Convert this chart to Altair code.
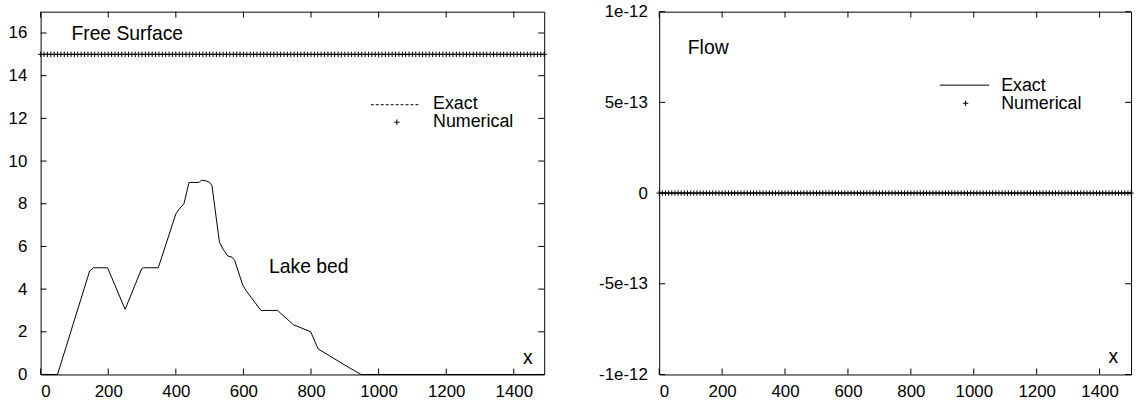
import altair as alt
import pandas as pd

# ---------------- data ----------------
# Left panel: lake bed profile
bed_x = [0, 50, 145, 157, 198, 250, 299, 304, 348, 400, 410, 424, 439, 469, 475, 490,
         500, 507, 529, 541, 554, 566, 574, 598, 610, 652, 701, 748, 799, 821, 904, 948, 1490]
bed_y = [0, 0, 4.85, 5.0, 5.0, 3.05, 4.96, 5.0, 5.0, 7.52, 7.75, 8.0, 9.0, 9.0, 9.1, 9.07,
         9.0, 8.84, 6.2, 5.84, 5.55, 5.5, 5.35, 4.19, 3.88, 3.0, 3.0, 2.33, 2.0, 1.2, 0.4, 0, 0]

# numerical grid (cell positions) and solutions
grid_left = list(range(0, 1491, 10))
grid_right = list(range(0, 1501, 10))
surface_level = 15.0
surface_exact_x = [0, 1490]
flow_exact_x = [0, 1500]
flow_level = 0.0

left_xticks = [0, 200, 400, 600, 800, 1000, 1200, 1400]
left_yticks = [0, 2, 4, 6, 8, 10, 12, 14, 16]
right_xticks = [0, 200, 400, 600, 800, 1000, 1200, 1400]
right_yticks = [-1e-12, -5e-13, 0.0, 5e-13, 1e-12]

# annotations (data coordinates)
left_labels = ["Free Surface", "Lake bed", "x"]
left_label_x = [91, 676, 1427]
left_label_y = [15.66, 4.77, 0.5]
right_labels = ["Flow", "x"]
right_label_x = [91, 1428]
right_label_y = [0.764e-12, -0.939e-12]

legend_names = ["Exact", "Numerical"]

# ---------------- styling ----------------
FONT = "Liberation Sans"
LW, LH = 508, 366
RW, RH = 476, 366
TICK = 6
PLUS = "M-1,0L1,0M0,-1L0,1"

bed_df = pd.DataFrame({"x": bed_x, "y": bed_y})
surf_num_df = pd.DataFrame({"x": grid_left, "y": [surface_level] * len(grid_left)})
surf_ex_df = pd.DataFrame({"x": surface_exact_x, "y": [surface_level] * len(surface_exact_x)})
flow_num_df = pd.DataFrame({"x": grid_right, "y": [flow_level] * len(grid_right)})
flow_ex_df = pd.DataFrame({"x": flow_exact_x, "y": [flow_level] * len(flow_exact_x)})


def panel(xdom, ydom, W, H, xticks, yticks, yaxis_kw, layers_data, labels, legend_pos):
    xs = alt.Scale(domain=xdom, nice=False, zero=False)
    ys = alt.Scale(domain=ydom, nice=False, zero=False)
    xaxis = alt.Axis(values=xticks, title=None, format="d", labelPadding=9, ticks=False,
                     domain=False, grid=False, labelFont=FONT, labelFontSize=17,
                     labelColor="black")
    yaxis = alt.Axis(values=yticks, title=None, ticks=False, domain=False, grid=False,
                     labelFont=FONT, labelFontSize=17, labelColor="black", **yaxis_kw)
    X = alt.X("x:Q", scale=xs, axis=xaxis)
    Y = alt.Y("y:Q", scale=ys, axis=yaxis)

    layers = []
    for df, mk in layers_data:
        layers.append(mk(alt.Chart(df)).encode(x=X, y=Y))

    # inward ticks on all four sides
    xt = pd.DataFrame({"x": xticks})
    yt = pd.DataFrame({"y": yticks})
    layers.append(alt.Chart(xt).mark_rule(color="black", strokeWidth=1).encode(
        x=X, y=alt.value(H), y2=alt.value(H - TICK)))
    layers.append(alt.Chart(xt).mark_rule(color="black", strokeWidth=1).encode(
        x=X, y=alt.value(0), y2=alt.value(TICK)))
    layers.append(alt.Chart(yt).mark_rule(color="black", strokeWidth=1).encode(
        y=Y, x=alt.value(0), x2=alt.value(TICK)))
    layers.append(alt.Chart(yt).mark_rule(color="black", strokeWidth=1).encode(
        y=Y, x=alt.value(W), x2=alt.value(W - TICK)))

    # text annotations
    lab_df = pd.DataFrame({"label": labels[0], "x": labels[1], "y": labels[2]})
    layers.append(alt.Chart(lab_df).mark_text(align="left", baseline="alphabetic", font=FONT,
                                              fontSize=19.5, color="black").encode(
        x=X, y=Y, text="label:N"))

    # legend
    (lx1, lx2, ly_line, tx, ty1, px, py, ty2, dash) = legend_pos
    leg_line = pd.DataFrame({"x": [lx1], "x2": [lx2], "y": [ly_line]})
    rule_kw = {"strokeDash": dash} if dash else {}
    layers.append(alt.Chart(leg_line).mark_rule(color="black", strokeWidth=1, **rule_kw).encode(
        x=X, x2="x2:Q", y=Y))
    leg_pt = pd.DataFrame({"x": [px], "y": [py]})
    layers.append(alt.Chart(leg_pt).mark_point(shape=PLUS, size=30, filled=False, color="black",
                                               strokeWidth=1, opacity=1).encode(x=X, y=Y))
    leg_txt = pd.DataFrame({"label": legend_names, "x": [tx, tx], "y": [ty1, ty2]})
    layers.append(alt.Chart(leg_txt).mark_text(align="left", baseline="alphabetic", font=FONT,
                                               fontSize=18, color="black").encode(
        x=X, y=Y, text="label:N"))

    return alt.layer(*layers).properties(width=W, height=H)


points = lambda c: c.mark_point(shape=PLUS, size=30, filled=False, color="black",
                                strokeWidth=1, opacity=1)
dashed = lambda c: c.mark_line(color="black", strokeWidth=1, strokeDash=[3, 2])
solid = lambda c: c.mark_line(color="black", strokeWidth=1)

left = panel(
    [0, 1490], [0, 17], LW, LH, left_xticks, left_yticks,
    {"format": "d", "labelPadding": 14, "minExtent": 35, "maxExtent": 35},
    [(bed_df, solid), (surf_ex_df, dashed), (surf_num_df, points)],
    (left_labels, left_label_x, left_label_y),
    (977, 1124, 12.64, 1161, 12.44, 1054, 11.82, 11.59, [3, 2]),
)

right = panel(
    [0, 1500], [-1e-12, 1e-12], RW, RH, right_xticks, right_yticks,
    {"labelExpr": "datum.value == 0 ? '0' : replace(format(datum.value, '.0e'), '\u2212', '-')",
     "labelPadding": 12, "minExtent": 89, "maxExtent": 89},
    [(flow_ex_df, solid), (flow_num_df, points)],
    (right_labels, right_label_x, right_label_y),
    (892, 1049, 0.595e-12, 1087, 0.564e-12, 974, 0.495e-12, 0.463e-12, None),
)

chart = alt.hconcat(left, right, spacing=20).properties(
    padding={"left": 5, "top": 0, "right": 0, "bottom": 0},
    background="white",
).configure_view(stroke="black", strokeWidth=1)

chart.save("out.html", embed_options={"renderer": "svg", "actions": False})
